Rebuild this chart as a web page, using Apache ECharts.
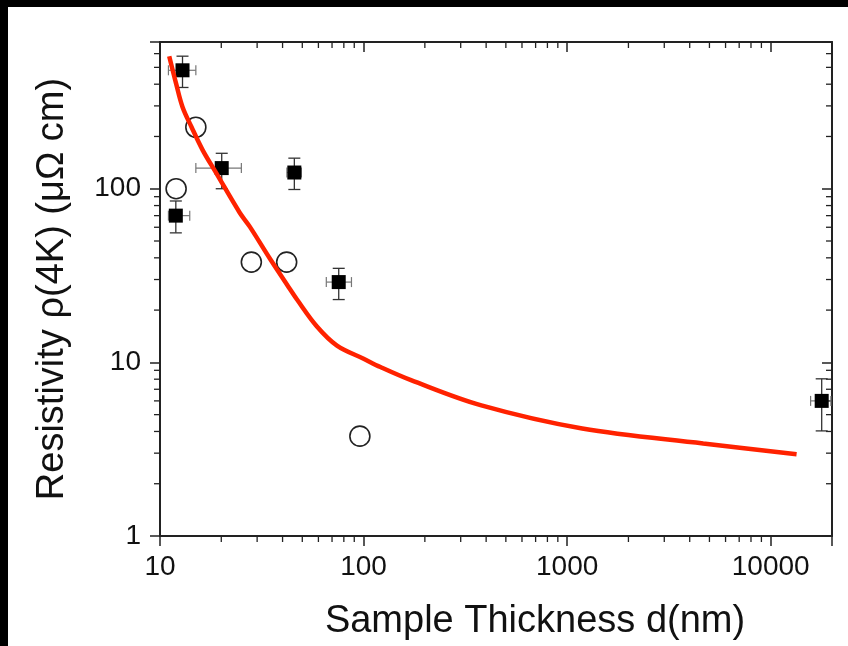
<!DOCTYPE html>
<html>
<head>
<meta charset="utf-8">
<script src="https://cdn.jsdelivr.net/npm/echarts@6/dist/echarts.min.js"></script>
<style>
html,body{margin:0;padding:0;background:#000;width:848px;height:646px;overflow:hidden;}
#c{position:absolute;left:8px;top:7px;width:840px;height:639px;background:#fff;}
</style>
</head>
<body>
<div id="c"></div>
<script>
// ---- data ----
const xAxisTitle = 'Sample Thickness d(nm)';
const yAxisTitle = 'Resistivity \u03c1(4K) (\u03bc\u03a9 cm)';
const xTickLabels = [10, 100, 1000, 10000];
const yTickLabels = [1, 10, 100];

// filled squares with error bars: thickness, resistivity
const squareX    = [12.9, 20.1, 45.7, 11.96, 75.5, 17800];
const squareY    = [481, 131.5, 124, 70, 29.0, 6.0];
const squareXLow = [11.0, 15.0, 42.0, 11.0, 65.6, 15700];
const squareXHigh= [15.0, 25.1, 49.5, 14.0, 87.2, 19750];
const squareYLow = [383, 100, 99, 55.7, 23.0, 4.03];
const squareYHigh= [580, 160, 150, 85, 34.8, 8.04];

// open circles
const circleX = [15.0, 12.0, 28.1, 41.9, 95.9];
const circleY = [226, 100, 37.8, 37.8, 3.76];

// red model curve
const curveX = [11.1, 12.0, 12.9, 14.3, 16.2, 18.9, 24.6, 27.6, 34.7, 42.7, 47, 59, 74, 100, 121, 171, 379, 1186, 4660, 13400];
const curveY = [580, 403, 296, 226, 167, 123, 73, 60.5, 39.5, 27.3, 23.1, 16.1, 12.5, 10.5, 9.4, 7.9, 5.65, 4.16, 3.41, 2.96];

const minorMultipliers = [2, 3, 4, 5, 6, 7, 8, 9];
const xMin = 10, xMax = 20000, yMin = 1, yMax = 700;

// ---- build ----
const FONT = '"Liberation Sans", Arial, Helvetica, sans-serif';
const AX = '#222';
const isPow10 = v => Math.abs(Math.log10(v) - Math.round(Math.log10(v))) < 1e-6;

function minorValues(lo, hi) {
  const out = [];
  for (let d = Math.floor(Math.log10(lo)); d <= Math.ceil(Math.log10(hi)); d++) {
    const base = Math.pow(10, d);
    minorMultipliers.forEach(m => { const v = m * base; if (v > lo && v < hi) out.push(v); });
  }
  return out;
}
const xMinor = minorValues(xMin, xMax);
const yMinor = minorValues(yMin, yMax);

const squareData = squareX.map((x, i) => [x, squareY[i]]);
const errData = squareX.map((x, i) => [x, squareY[i], squareXLow[i], squareXHigh[i], squareYLow[i], squareYHigh[i]]);
const circleData = circleX.map((x, i) => [x, circleY[i]]);
const curveData = curveX.map((x, i) => [x, curveY[i]]);

function baseAxis(extra) {
  return Object.assign({
    type: 'log', logBase: 10,
    axisLine: { show: true, onZero: false, lineStyle: { color: AX, width: 2 } },
    splitLine: { show: false },
    minorTick: { show: false },
    minorSplitLine: { show: false }
  }, extra);
}

const chart = echarts.init(document.getElementById('c'), null, { renderer: 'canvas' });
chart.setOption({
  animation: false,
  backgroundColor: '#fff',
  grid: { left: 152, top: 35, right: 16, bottom: 108, containLabel: false },
  xAxis: [
    baseAxis({
      position: 'bottom', min: xMin, max: xMax,
      axisTick: { show: true, inside: false, length: 10, lineStyle: { color: AX, width: 1.5 } },
      axisLabel: { show: true, margin: 17, fontSize: 28, color: '#111', fontFamily: FONT,
        formatter: v => (isPow10(v) && xTickLabels.indexOf(Math.round(v)) >= 0) ? String(Math.round(v)) : '' },
      name: xAxisTitle, nameLocation: 'middle', nameGap: 67,
      nameTextStyle: { fontSize: 38, color: '#111', fontFamily: FONT, padding: [0, 0, 0, 78] }
    }),
    baseAxis({
      position: 'top', min: xMin, max: xMax,
      axisTick: { show: true, inside: true, length: 10, lineStyle: { color: AX, width: 1.5 } },
      axisLabel: { show: false }
    })
  ],
  yAxis: [
    baseAxis({
      position: 'left', min: yMin, max: yMax,
      axisTick: { show: true, inside: false, length: 10, lineStyle: { color: AX, width: 1.5 } },
      axisLabel: { show: true, margin: 19, fontSize: 28, color: '#111', fontFamily: FONT,
        formatter: v => (isPow10(v) && yTickLabels.indexOf(Math.round(v)) >= 0) ? String(Math.round(v)) : '' },
      name: yAxisTitle, nameLocation: 'middle', nameGap: 88, nameRotate: 90,
      nameTextStyle: { fontSize: 38, color: '#111', fontFamily: FONT }
    }),
    baseAxis({
      position: 'right', min: yMin, max: yMax,
      axisTick: { show: true, inside: true, length: 10, lineStyle: { color: AX, width: 1.5 } },
      axisLabel: { show: false }
    })
  ],
  series: [
    {
      // minor ticks on all four sides, positioned through the axis scales
      type: 'custom', xAxisIndex: 0, yAxisIndex: 0, z: 1, silent: true,
      data: [[xMin, yMin]],
      clip: false,
      renderItem: function (params, api) {
        const cs = params.coordSys;
        const top = cs.y, bottom = cs.y + cs.height, left = cs.x, right = cs.x + cs.width;
        const st = { stroke: AX, lineWidth: 1.3 };
        const L = 6;
        const ch = [];
        xMinor.forEach(v => {
          const px = api.coord([v, yMin])[0];
          ch.push({ type: 'line', shape: { x1: px, y1: bottom, x2: px, y2: bottom + L }, style: st });
          ch.push({ type: 'line', shape: { x1: px, y1: top, x2: px, y2: top + L }, style: st });
        });
        yMinor.forEach(v => {
          const py = api.coord([xMin, v])[1];
          ch.push({ type: 'line', shape: { x1: left, y1: py, x2: left - L, y2: py }, style: st });
          ch.push({ type: 'line', shape: { x1: right, y1: py, x2: right - L, y2: py }, style: st });
        });
        return { type: 'group', children: ch };
      }
    },
    {
      // error bars
      type: 'custom', xAxisIndex: 0, yAxisIndex: 0, z: 2, silent: true,
      data: errData,
      renderItem: function (params, api) {
        const c = api.coord([api.value(0), api.value(1)]);
        const xl = api.coord([api.value(2), api.value(1)])[0];
        const xh = api.coord([api.value(3), api.value(1)])[0];
        const yl = api.coord([api.value(0), api.value(4)])[1];
        const yh = api.coord([api.value(0), api.value(5)])[1];
        const sv = { stroke: '#333', lineWidth: 1.3 };
        const sh = { stroke: '#777', lineWidth: 1.2 };
        const cw = 6, chh = 5;
        return { type: 'group', children: [
          { type: 'line', shape: { x1: c[0], y1: yl, x2: c[0], y2: yh }, style: sv },
          { type: 'line', shape: { x1: c[0] - cw, y1: yl, x2: c[0] + cw, y2: yl }, style: sv },
          { type: 'line', shape: { x1: c[0] - cw, y1: yh, x2: c[0] + cw, y2: yh }, style: sv },
          { type: 'line', shape: { x1: xl, y1: c[1], x2: xh, y2: c[1] }, style: sh },
          { type: 'line', shape: { x1: xl, y1: c[1] - chh, x2: xl, y2: c[1] + chh }, style: sh },
          { type: 'line', shape: { x1: xh, y1: c[1] - chh, x2: xh, y2: c[1] + chh }, style: sh }
        ] };
      }
    },
    {
      type: 'scatter', name: 'squares', xAxisIndex: 0, yAxisIndex: 0, z: 3,
      symbol: 'rect', symbolSize: 14,
      itemStyle: { color: '#000', opacity: 1 },
      data: squareData
    },
    {
      type: 'scatter', name: 'circles', xAxisIndex: 0, yAxisIndex: 0, z: 3,
      symbol: 'circle', symbolSize: 20,
      itemStyle: { color: '#fff', borderColor: '#222', borderWidth: 1.6, opacity: 1 },
      data: circleData
    },
    {
      type: 'line', name: 'model', xAxisIndex: 0, yAxisIndex: 0, z: 4,
      showSymbol: false, smooth: 0.35,
      lineStyle: { color: '#ff2200', width: 4.5 },
      data: curveData
    }
  ]
});
</script>
</body>
</html>
